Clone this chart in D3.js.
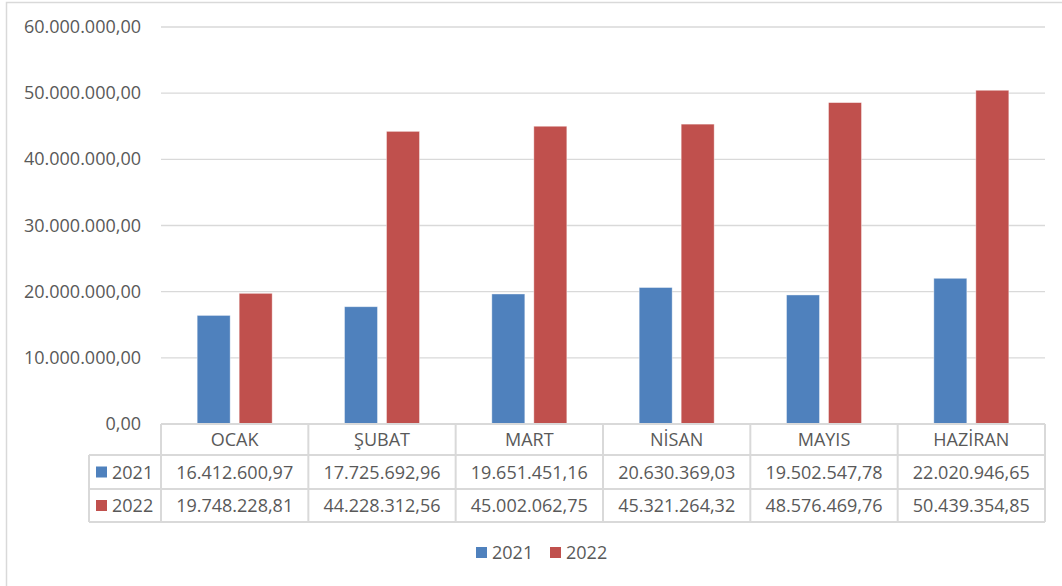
<!DOCTYPE html>
<html>
<head>
<meta charset="utf-8">
<script src="https://cdn.jsdelivr.net/npm/d3@7"></script>
<style>
    body { margin: 0; background: #fff; }
    svg { display: block; font-family: "Open Sans", sans-serif; }
</style>
</head>
<body>
<div id="chart_div"></div>
<script>
// months and yearly series
const months = ["OCAK", "ŞUBAT", "MART", "NİSAN", "MAYIS", "HAZİRAN"];
const years = ["2021", "2022"];
const values2021 = [16412600.97, 17725692.96, 19651451.16, 20630369.03, 19502547.78, 22020946.65];
const values2022 = [19748228.81, 44228312.56, 45002062.75, 45321264.32, 48576469.76, 50439354.85];
const yTicks = [0, 10000000, 20000000, 30000000, 40000000, 50000000, 60000000];
const colors = ["#4F81BD", "#C0504D"];

const width = 1062, height = 586;
const fontSize = 18;
const trLocale = d3.formatLocale({decimal: ",", thousands: ".", grouping: [3], currency: ["", ""]});
const fmt = trLocale.format(",.2f");

const svg = d3.select("#chart_div").append("svg")
    .attr("width", width).attr("height", height);

// outer chart border
svg.append("rect")
    .attr("x", 6.5).attr("y", 2.5)
    .attr("width", width + 10).attr("height", height + 10)
    .attr("fill", "none").attr("stroke", "#d9d9d9").attr("stroke-width", 1.5);

const plotLeft = 161, plotRight = 1045;
const yScale = d3.scaleLinear().domain([0, 60000000]).range([424, 27]);
const xScale = d3.scaleBand().domain(months).range([plotLeft, plotRight]);
const groupW = 75;
const xInner = d3.scaleBand().domain(years).range([0, groupW]).paddingInner(9 / 42);

// gridlines
svg.append("g").selectAll("line")
    .data(yTicks.slice(1))
    .enter().append("line")
    .attr("x1", plotLeft).attr("x2", plotRight)
    .attr("y1", d => yScale(d)).attr("y2", d => yScale(d))
    .attr("stroke", "#d9d9d9").attr("stroke-width", 1.3);

// y axis labels
svg.append("g").selectAll("text")
    .data(yTicks)
    .enter().append("text")
    .attr("x", 141)
    .attr("y", d => yScale(d) + 6)
    .attr("text-anchor", "end")
    .attr("font-size", fontSize)
    .attr("fill", "#595959")
    .text(d => fmt(d));

// bars
const series = [values2021, values2022];
series.forEach(function (vals, si) {
    svg.append("g").selectAll("rect")
        .data(vals)
        .enter().append("rect")
        .attr("x", (d, i) => xScale(months[i]) + xScale.bandwidth() / 2 - groupW / 2 + xInner(years[si]))
        .attr("y", d => yScale(d))
        .attr("width", xInner.bandwidth())
        .attr("height", d => yScale(0) - yScale(d))
        .attr("fill", colors[si])
        .attr("stroke", "#ffffff").attr("stroke-opacity", 0.5).attr("stroke-width", 0.8);
});

// data table
const rowY = [424, 455, 489, 522];
const keyLeft = 89;
const tbl = svg.append("g");
const lineColor = "#d9d9d9";
// horizontal lines
tbl.append("line").attr("x1", plotLeft).attr("x2", plotRight)
    .attr("y1", rowY[0]).attr("y2", rowY[0]).attr("stroke", lineColor).attr("stroke-width", 2);
rowY.slice(1).forEach(function (y) {
    tbl.append("line").attr("x1", keyLeft).attr("x2", plotRight)
        .attr("y1", y).attr("y2", y).attr("stroke", lineColor).attr("stroke-width", 2);
});
// vertical lines
tbl.append("line").attr("x1", keyLeft).attr("x2", keyLeft)
    .attr("y1", rowY[1]).attr("y2", rowY[3]).attr("stroke", lineColor).attr("stroke-width", 2);
months.concat(["end"]).forEach(function (m, i) {
    const x = i < months.length ? xScale(m) : plotRight;
    tbl.append("line").attr("x1", x).attr("x2", x)
        .attr("y1", rowY[0]).attr("y2", rowY[3]).attr("stroke", lineColor).attr("stroke-width", 2);
});
// header texts
tbl.selectAll("text.head")
    .data(months)
    .enter().append("text")
    .attr("class", "head")
    .attr("x", d => xScale(d) + xScale.bandwidth() / 2)
    .attr("y", (rowY[0] + rowY[1]) / 2 + 6.5)
    .attr("text-anchor", "middle")
    .attr("font-size", fontSize)
    .attr("fill", "#595959")
    .text(d => d);
// value rows
series.forEach(function (vals, si) {
    const cy = (rowY[si + 1] + rowY[si + 2]) / 2;
    tbl.append("rect")
        .attr("x", 96).attr("y", cy - 5.5).attr("width", 11).attr("height", 11)
        .attr("fill", colors[si]);
    tbl.append("text")
        .attr("x", 112).attr("y", cy + 6.5)
        .attr("font-size", fontSize).attr("fill", "#595959")
        .text(years[si]);
    tbl.append("g").selectAll("text")
        .data(vals)
        .enter().append("text")
        .attr("x", (d, i) => xScale(months[i]) + xScale.bandwidth() / 2)
        .attr("y", cy + 6.5)
        .attr("text-anchor", "middle")
        .attr("font-size", fontSize)
        .attr("fill", "#595959")
        .text(d => fmt(d));
});

// legend
const legendX = [476, 550];
const legend = svg.append("g");
years.forEach(function (y, i) {
    legend.append("rect")
        .attr("x", legendX[i]).attr("y", 547).attr("width", 11).attr("height", 11)
        .attr("fill", colors[i]);
    legend.append("text")
        .attr("x", legendX[i] + 16).attr("y", 559)
        .attr("font-size", fontSize).attr("fill", "#595959")
        .text(y);
});
</script>
</body>
</html>
